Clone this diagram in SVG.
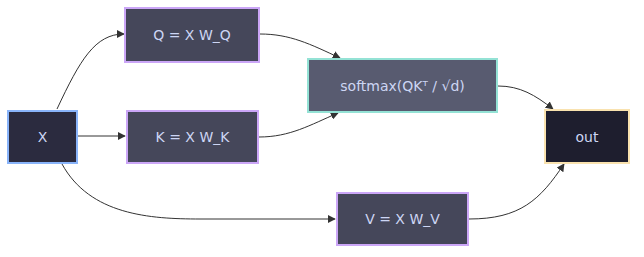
<svg xmlns="http://www.w3.org/2000/svg" width="644" height="257" viewBox="0 0 644 257">
<style>
.n rect{stroke-width:2}
.n text{font-family:"DejaVu Sans",Verdana,sans-serif;font-size:14px;fill:#cdd6f4;text-anchor:middle;dominant-baseline:central}
.e path{fill:none;stroke:#333;stroke-width:1}
</style>
<defs>
<marker id="ah" viewBox="0 0 10 10" refX="9" refY="5" markerWidth="8" markerHeight="8" markerUnits="userSpaceOnUse" orient="auto">
<path d="M0,0 L10,5 L0,10 z" fill="#333"/>
</marker>
</defs>
<rect width="644" height="257" fill="#fff"/>
<g class="e">
<path d="M57,109 C80,60 95,34 124,34" marker-end="url(#ah)"/>
<path d="M78,136 L125,136" marker-end="url(#ah)"/>
<path d="M62,164 C90,215 150,219 200,219 L335,219" marker-end="url(#ah)"/>
<path d="M260,34 C290,34 310,44 340,58" marker-end="url(#ah)"/>
<path d="M259,137 C290,137 310,125 338,113" marker-end="url(#ah)"/>
<path d="M498,86 C520,86 535,95 553,109" marker-end="url(#ah)"/>
<path d="M469,219 C520,219 540,200 564,164" marker-end="url(#ah)"/>
</g>
<g id="X" class="n"><rect x="8" y="111" width="69" height="52" fill="#2b2b3f" stroke="#89b4fa"/><text x="42.5" y="137">X</text></g>
<g id="Q" class="n"><rect x="125" y="8" width="134" height="54" fill="#45475a" stroke="#cba6f7"/><text x="192" y="35">Q = X W_Q</text></g>
<g id="K" class="n"><rect x="127" y="111" width="131" height="52" fill="#45475a" stroke="#cba6f7"/><text x="192.5" y="137">K = X W_K</text></g>
<g id="S" class="n"><rect x="308" y="59" width="189" height="53" fill="#585b70" stroke="#94e2d5"/><text x="402.5" y="86">softmax(QKᵀ / √d)</text></g>
<g id="V" class="n"><rect x="337" y="193" width="131" height="52" fill="#45475a" stroke="#cba6f7"/><text x="402.5" y="219">V = X W_V</text></g>
<g id="O" class="n"><rect x="545" y="110" width="84" height="53" fill="#1e1e2e" stroke="#f9e2af"/><text x="587" y="137">out</text></g>
</svg>
